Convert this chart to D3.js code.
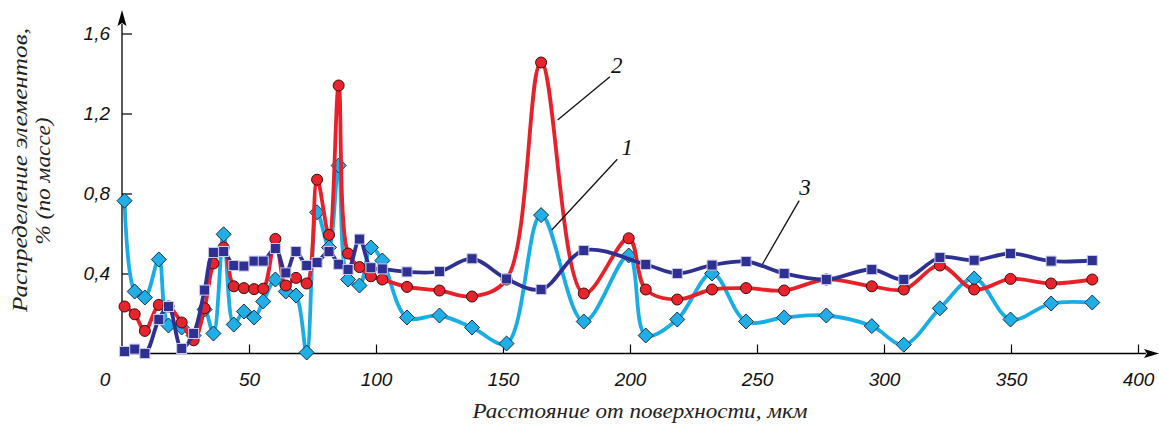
<!DOCTYPE html>
<html><head><meta charset="utf-8">
<script src="https://cdn.jsdelivr.net/npm/d3@7/dist/d3.min.js"></script>
<style>
html,body{margin:0;padding:0;background:#fff;}
svg{display:block;}
</style></head>
<body>
<svg id="c" width="1159" height="426"></svg>
<script>
// ---- data ----
const xs = [1, 5, 9, 14.5, 18.3, 23.5, 28.2, 32.5, 36, 40, 44, 48, 52, 55.6, 60.4, 64.5, 68.5, 72.7, 76.8, 81.5, 85.3, 89, 93.5, 98, 102.5, 112.2, 125, 137.8, 151.4, 165, 181.8, 199.5, 206.2, 218.6, 232.3, 245.7, 260.7, 277.3, 295.2, 307.8, 322, 335.5, 349.8, 365.8, 382];
const series1 = [0.764, 0.31, 0.28, 0.47, 0.14, 0.13, 0.09, 0.22, 0.10, 0.596, 0.145, 0.21, 0.18, 0.26, 0.37, 0.31, 0.29, 0.005, 0.706, 0.53, 0.94, 0.37, 0.34, 0.53, 0.465, 0.18, 0.19, 0.13, 0.05, 0.692, 0.16, 0.49, 0.09, 0.17, 0.40, 0.16, 0.18, 0.19, 0.137, 0.044, 0.226, 0.375, 0.17, 0.25, 0.255];
const series2 = [0.235, 0.196, 0.113, 0.243, 0.235, 0.155, 0.066, 0.226, 0.45, 0.53, 0.336, 0.327, 0.322, 0.324, 0.573, 0.34, 0.378, 0.35, 0.869, 0.593, 1.34, 0.50, 0.432, 0.386, 0.37, 0.333, 0.315, 0.285, 0.37, 1.455, 0.30, 0.576, 0.32, 0.27, 0.32, 0.327, 0.315, 0.37, 0.336, 0.32, 0.44, 0.32, 0.373, 0.35, 0.37];
const series3 = [0.01, 0.022, 0.0, 0.17, 0.235, 0.025, 0.10, 0.317, 0.505, 0.51, 0.44, 0.437, 0.462, 0.462, 0.525, 0.403, 0.51, 0.44, 0.455, 0.51, 0.446, 0.42, 0.572, 0.429, 0.423, 0.408, 0.41, 0.474, 0.373, 0.32, 0.515, null, 0.445, 0.40, 0.442, 0.46, 0.40, 0.37, 0.42, 0.37, 0.48, 0.466, 0.50, 0.462, 0.465];
const xTicks = [50, 100, 150, 200, 250, 300, 350, 400];
const yTicks = [0.4, 0.8, 1.2, 1.6];
const seriesNames = ["1", "2", "3"];
// annotation label positions in data units: [textX, textY, lineX1, lineY1, lineX2, lineY2]
const annot1 = [198.9, 1.031, 195.0, 0.971, 169.2, 0.6175];
const annot2 = [194.8, 1.4425, 192.1, 1.384, 171.5, 1.1675];
const annot3 = [268.9, 0.834, 266.6, 0.764, 252.2, 0.4475];
const xTitle = "Расстояние от поверхности, мкм";
const yTitle1 = "Распределение элементов,";
const yTitle2 = "% (по массе)";

// ---- drawing ----
const svg = d3.select("#c");
const x = d3.scaleLinear().domain([0, 400]).range([122, 1138]);
const y = d3.scaleLinear().domain([0, 1.6]).range([353.5, 33.5]);
const fmt = d => d.toFixed(1).replace(".", ",");

// axes
const gx = svg.append("g").attr("transform", `translate(0,${y(0)})`)
  .call(d3.axisBottom(x).tickValues(xTicks).tickSizeInner(-9).tickSizeOuter(0).tickPadding(19).tickFormat(d3.format("d")));
const gy = svg.append("g").attr("transform", `translate(${x(0)},0)`)
  .call(d3.axisLeft(y).tickValues(yTicks).tickSizeInner(-10).tickSizeOuter(0).tickPadding(12).tickFormat(fmt));
[gx, gy].forEach(g => {
  g.select(".domain").remove();
  g.selectAll(".tick line").attr("stroke", "#000").attr("stroke-width", 1.2);
  g.selectAll(".tick text").attr("fill", "#111").style("font-family", "'Liberation Sans', Arial, sans-serif")
    .style("font-style", "italic").style("font-size", "19px");
});
svg.append("text").attr("x", 105).attr("y", y(0) + 19).attr("dy", "0.71em").attr("text-anchor", "middle")
  .style("font-family", "'Liberation Sans', Arial, sans-serif").style("font-style", "italic").style("font-size", "19px")
  .attr("fill", "#111").text("0");

// axis lines with arrows
svg.append("line").attr("x1", x(0)).attr("x2", 1146).attr("y1", y(0)).attr("y2", y(0)).attr("stroke", "#000").attr("stroke-width", 1.3);
svg.append("path").attr("d", `M1159,${y(0)} L1144,${y(0)-4.5} L1147,${y(0)} L1144,${y(0)+4.5} Z`).attr("fill", "#000");
svg.append("line").attr("x1", x(0)).attr("x2", x(0)).attr("y1", y(0)).attr("y2", 24).attr("stroke", "#000").attr("stroke-width", 1.3);
svg.append("path").attr("d", `M${x(0)},10 L${x(0)-4.5},26 L${x(0)},23 L${x(0)+4.5},26 Z`).attr("fill", "#000");

// series
const line = d3.line().x(d => x(d[0])).y(d => y(d[1])).curve(d3.curveCatmullRom.alpha(0.5));
const pts = arr => xs.map((v, i) => [v, arr[i]]).filter(d => d[1] !== null);
const cfg = [
  {data: series1, color: "#19ade6", fill: "#1faee6", stroke: "#173049", shape: "diamond"},
  {data: series2, color: "#e8202a", fill: "#e8232b", stroke: "#3a0d0d", shape: "circle"},
  {data: series3, color: "#2e3192", fill: "#2e3192", stroke: "#c9c9ea", shape: "square"}
];
cfg.forEach(c => {
  const p = pts(c.data);
  const g = svg.append("g");
  g.append("path").attr("d", line(p)).attr("fill", "none").attr("stroke", c.color).attr("stroke-width", 3.8)
    .attr("stroke-linejoin", "round");
  const m = g.selectAll(".m").data(p).enter();
  if (c.shape === "diamond") {
    m.append("path").attr("d", d => { const cx = x(d[0]), cy = y(d[1]), r = 7.5;
      return `M${cx},${cy-r} L${cx+r},${cy} L${cx},${cy+r} L${cx-r},${cy} Z`; })
      .attr("fill", c.fill).attr("stroke", c.stroke).attr("stroke-width", 1);
  } else if (c.shape === "circle") {
    m.append("circle").attr("cx", d => x(d[0])).attr("cy", d => y(d[1])).attr("r", 5.5)
      .attr("fill", c.fill).attr("stroke", c.stroke).attr("stroke-width", 1);
  } else {
    m.append("rect").attr("x", d => x(d[0]) - 5).attr("y", d => y(d[1]) - 5).attr("width", 10).attr("height", 10)
      .attr("fill", c.fill).attr("stroke", c.stroke).attr("stroke-width", 1);
  }
});

// annotations
[annot1, annot2, annot3].forEach((a, i) => {
  svg.append("line").attr("x1", x(a[2])).attr("y1", y(a[3])).attr("x2", x(a[4])).attr("y2", y(a[5]))
    .attr("stroke", "#111").attr("stroke-width", 1.3);
  svg.append("text").attr("x", x(a[0])).attr("y", y(a[1])).attr("dy", "0.35em").attr("text-anchor", "middle")
    .style("font-family", "'Liberation Serif', 'Times New Roman', serif").style("font-style", "italic")
    .style("font-size", "23px").attr("fill", "#111").text(seriesNames[i]);
});

// titles
const serif = "'Liberation Serif', 'Times New Roman', serif";
svg.append("text").attr("x", 640).attr("y", 418).attr("text-anchor", "middle")
  .attr("textLength", 335).attr("lengthAdjust", "spacingAndGlyphs")
  .style("font-family", serif).style("font-style", "italic").style("font-size", "21px").attr("fill", "#222").text(xTitle);
svg.append("text").attr("transform", "translate(27,170) rotate(-90)").attr("text-anchor", "middle")
  .attr("textLength", 284).attr("lengthAdjust", "spacingAndGlyphs")
  .style("font-family", serif).style("font-style", "italic").style("font-size", "21px").attr("fill", "#222").text(yTitle1);
svg.append("text").attr("transform", "translate(50,181) rotate(-90)").attr("text-anchor", "middle")
  .attr("textLength", 127).attr("lengthAdjust", "spacingAndGlyphs")
  .style("font-family", serif).style("font-style", "italic").style("font-size", "21px").attr("fill", "#222").text(yTitle2);
</script>
</body></html>
